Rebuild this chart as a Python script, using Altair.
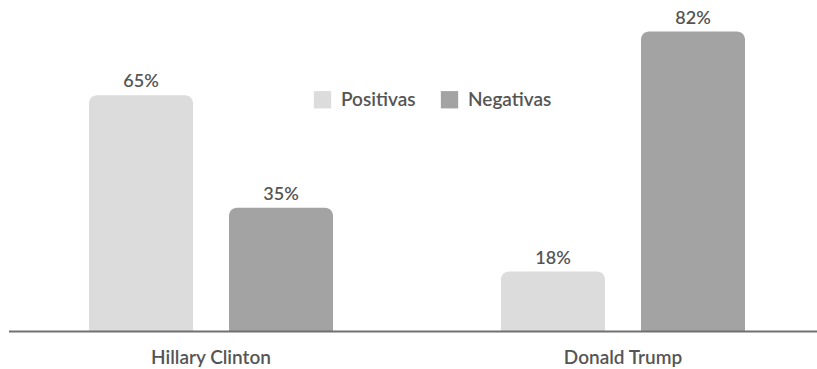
import altair as alt
import pandas as pd

candidates = ["Hillary Clinton", "Hillary Clinton", "Donald Trump", "Donald Trump"]
series = ["Positivas", "Negativas", "Positivas", "Negativas"]
values = [65, 35, 18, 82]
labels = ["65%", "35%", "18%", "82%"]

df = pd.DataFrame({"cand": candidates, "serie": series, "val": values, "lab": labels})

FONT = "Lato"
TXT = "#555555"
cand_order = ["Hillary Clinton", "Donald Trump"]
serie_order = ["Positivas", "Negativas"]
BASE = 2

x = alt.X("cand:N", sort=cand_order, title=None,
          scale=alt.Scale(range=[5, 829], paddingInner=0, paddingOuter=0),
          axis=alt.Axis(domain=False, ticks=False, labelFontSize=19, labelColor=TXT,
                        labelFont=FONT, labelFontWeight=600, labelPadding=9, labelAngle=0))
xo = alt.XOffset("serie:N", sort=serie_order,
                 scale=alt.Scale(paddingInner=0.257, paddingOuter=0.6))
y = alt.Y("val:Q", title=None, axis=None,
          scale=alt.Scale(domain=[0, 339 / 3.75], nice=False, zero=True))

bars = alt.Chart(df).mark_bar(cornerRadiusTopLeft=8, cornerRadiusTopRight=8).encode(
    x=x, xOffset=xo, y=y, y2=alt.datum(BASE),
    color=alt.Color("serie:N", sort=serie_order,
                    scale=alt.Scale(domain=serie_order, range=["#dcdcdc", "#a3a3a3"]),
                    legend=alt.Legend(orient="none", legendX=313, legendY=90, direction="horizontal",
                                      title=None, symbolType="square", symbolSize=300,
                                      symbolStrokeWidth=0, symbolOpacity=1,
                                      labelFontSize=19, labelColor=TXT, labelFont=FONT,
                                      labelFontWeight=600,
                                      columnPadding=24, labelOffset=9, padding=0)),
)

text = alt.Chart(df).mark_text(baseline="alphabetic", dy=-8, fontSize=18, font=FONT,
                               fontWeight=600, color=TXT).encode(
    x=alt.X("cand:N", sort=cand_order), xOffset=alt.XOffset("serie:N", sort=serie_order),
    y="val:Q", text="lab:N",
)

base = alt.Chart(pd.DataFrame({"v": [BASE]})).mark_rule(color="#707070", strokeWidth=2).encode(
    x=alt.value(9), x2=alt.value(817), y=alt.Y("v:Q"),
)

chart = alt.layer(bars, text, base).properties(
    width=817, height=339,
    autosize=alt.AutoSizeParams(type="none"),
    padding={"left": 0, "top": 0, "right": 0, "bottom": 30},
).configure_view(stroke=None).configure_text(font=FONT)

chart.save("out.html", embed_options={"renderer": "svg", "actions": False})
